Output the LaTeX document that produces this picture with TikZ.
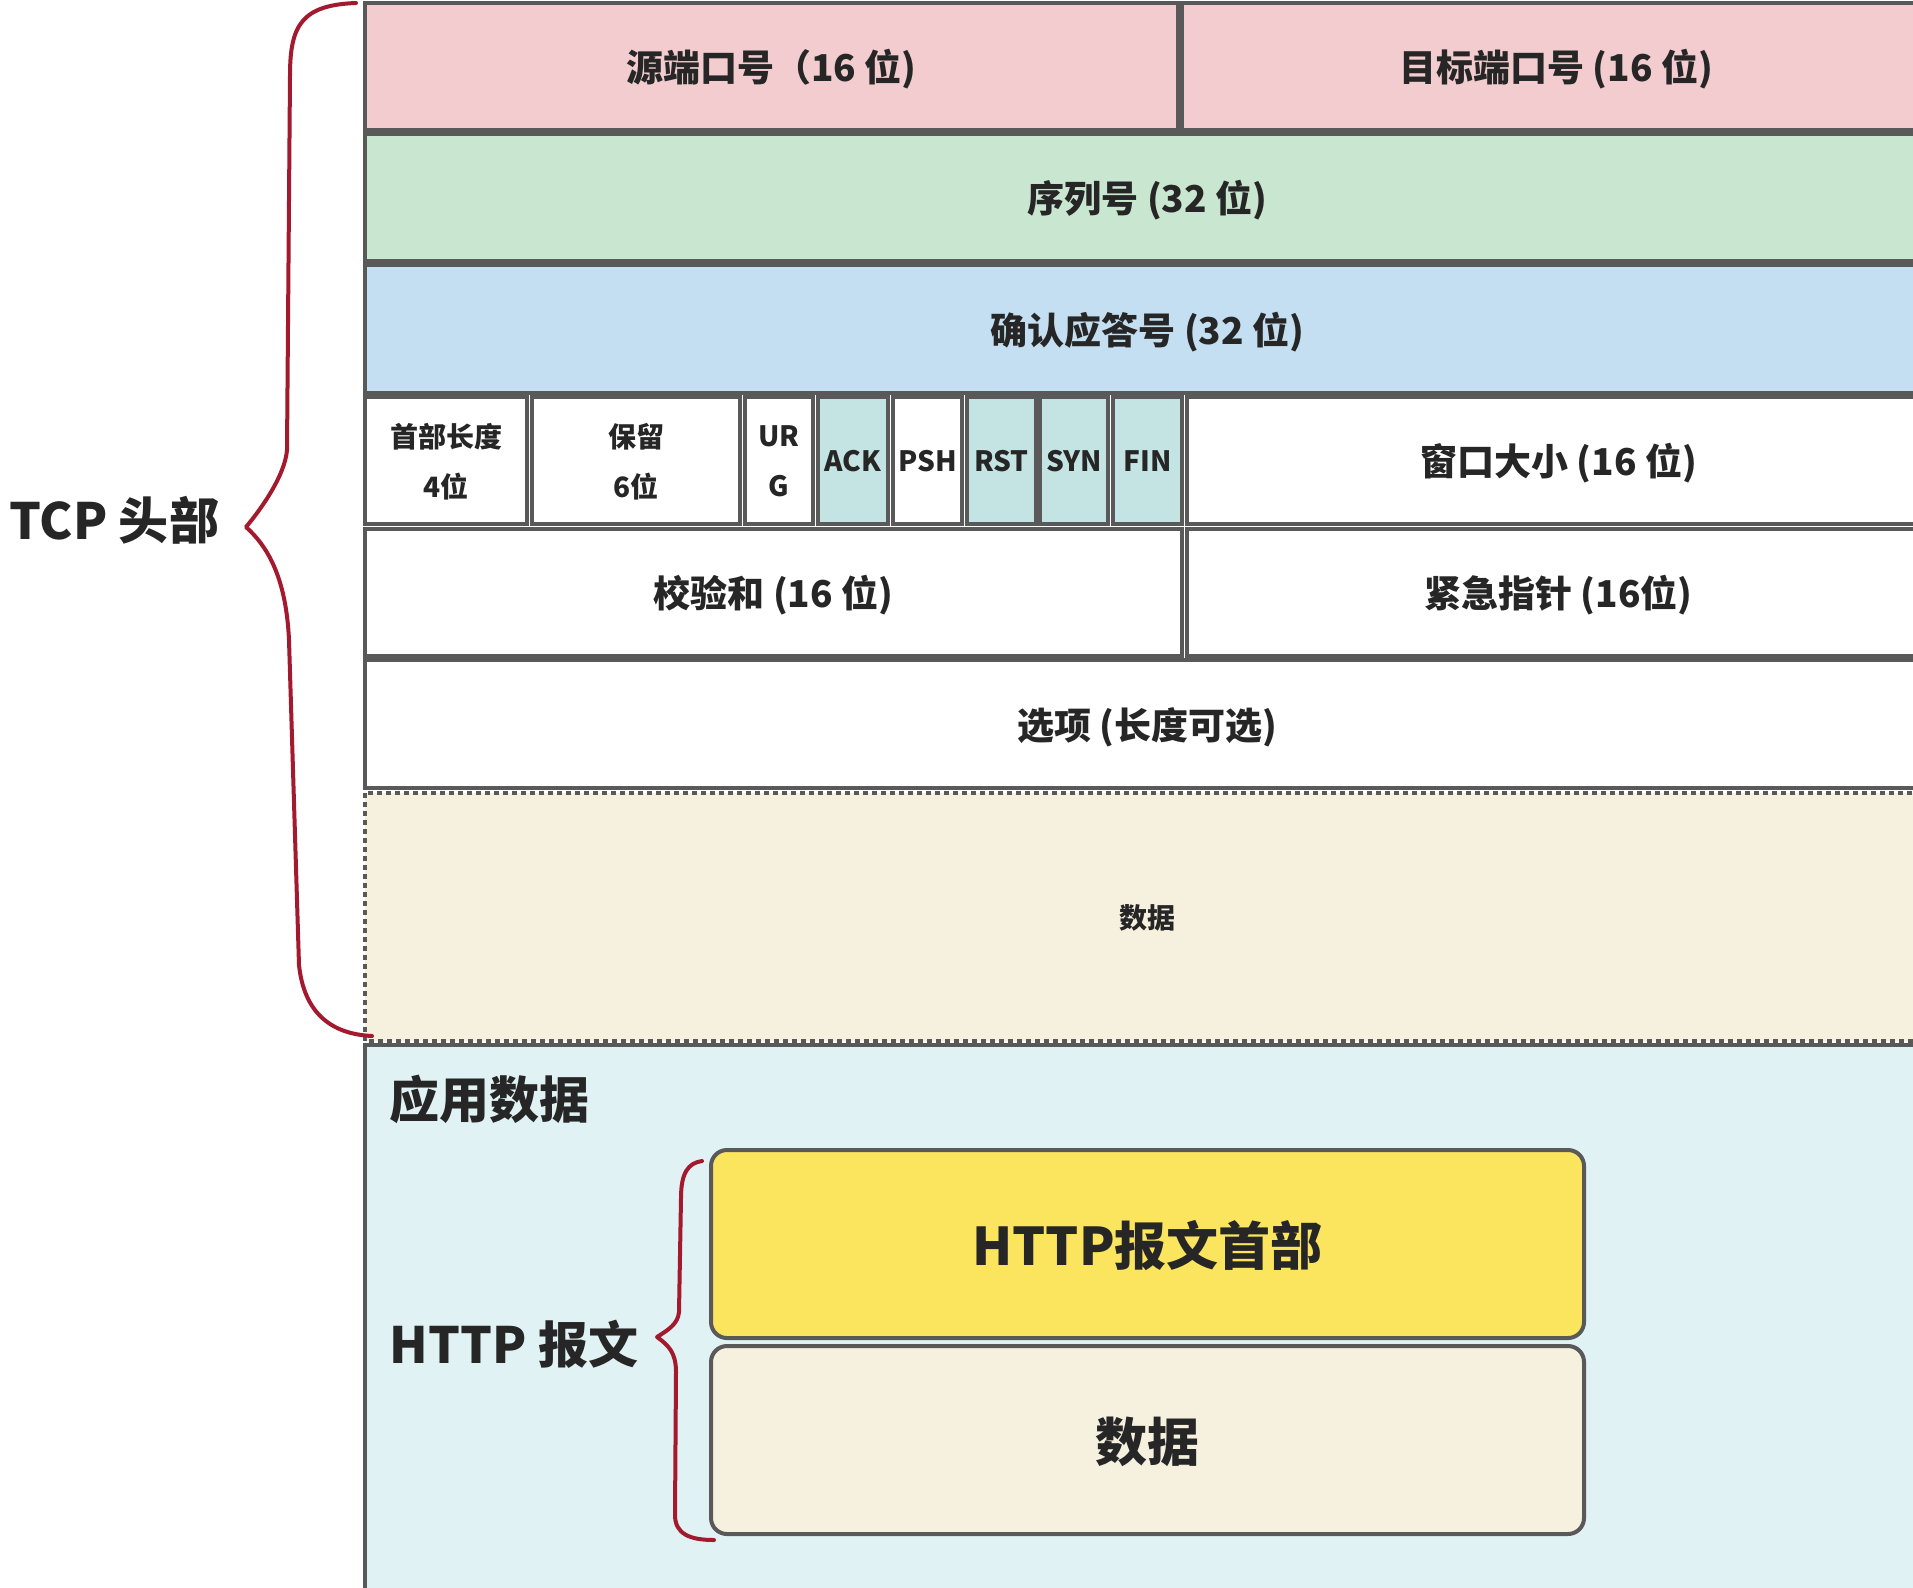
\documentclass[tikz,border=0pt]{standalone}
\usepackage{fontspec}
\setmainfont{Noto Sans CJK SC}

\definecolor{edge}{HTML}{595959}
\definecolor{ink}{HTML}{262626}
\definecolor{pinkf}{HTML}{F2CCCE}
\definecolor{greenf}{HTML}{C9E6D0}
\definecolor{bluef}{HTML}{C3DFF1}
\definecolor{flagf}{HTML}{C4E4E4}
\definecolor{beigef}{HTML}{F6F0DF}
\definecolor{appf}{HTML}{E0F2F4}
\definecolor{yellowf}{HTML}{FCE55E}
\definecolor{bracec}{HTML}{A31A2E}

% one header field: name, x1, y1, x2, y2, fill, text style, text
\newcommand\field[8]{%
  \draw[cellline,fill=#6] (#2,#3) rectangle (#4,#5)
    node[midway,#7] (#1) {#8};}

\begin{document}
\begin{tikzpicture}[x=1pt,y=-1pt,
  cellline/.style={draw=edge,line width=3.8pt},
  dashline/.style={draw=edge,line width=4pt,dash pattern=on 5pt off 4pt},
  roundbox/.style={draw=edge,line width=4pt,rounded corners=16pt},
  fieldtext/.style={font=\bfseries\fontsize{37}{46}\selectfont,text=ink,align=center,yshift=-3pt},
  smalltext/.style={font=\bfseries\fontsize{28}{50}\selectfont,text=ink,align=center,yshift=-1pt},
  labeltext/.style={font=\bfseries\fontsize{50}{60}\selectfont,text=ink},
  bigtext/.style={font=\bfseries\fontsize{52}{60}\selectfont,text=ink,yshift=-2pt},
  bracepen/.style={draw=bracec,line width=4pt,line cap=round,line join=round}]

\useasboundingbox (0,0) rectangle (1913,1587);
\fill[white] (0,0) rectangle (1913,1587);
\clip (0,0) rectangle (1913,1587);

% application data area below the TCP segment
\draw[cellline,fill=appf] (365,1045) rectangle (1935,1610);
\node[labeltext,anchor=west] (applabel) at (386,1099) {应用数据};

% TCP header rows
\field{srcport}{365}{3}{1178}{130}{pinkf}{fieldtext}{源端口号（16 位)}
\field{dstport}{1182}{3}{1930}{130}{pinkf}{fieldtext}{目标端口号 (16 位)}
\field{seq}{365}{134}{1930}{261}{greenf}{fieldtext}{序列号 (32 位)}
\field{acknum}{365}{265}{1930}{393}{bluef}{fieldtext}{确认应答号 (32 位)}

\field{hlen}{365}{397}{527}{524}{white}{smalltext}{首部长度\\4位}
\field{rsv}{532}{397}{740}{524}{white}{smalltext}{保留\\6位}
\field{urg}{745}{397}{813}{524}{white}{smalltext}{UR\\G}
\field{ackf}{818}{397}{888}{524}{flagf}{smalltext}{ACK}
\field{psh}{893}{397}{962}{524}{white}{smalltext}{PSH}
\field{rst}{967}{397}{1036}{524}{flagf}{smalltext}{RST}
\field{syn}{1040}{397}{1108}{524}{flagf}{smalltext}{SYN}
\field{fin}{1113}{397}{1182}{524}{flagf}{smalltext}{FIN}
\field{win}{1187}{397}{1930}{524}{white}{fieldtext}{窗口大小 (16 位)}

\field{csum}{365}{529}{1182}{656}{white}{fieldtext}{校验和 (16 位)}
\field{urgp}{1187}{529}{1930}{656}{white}{fieldtext}{紧急指针 (16位)}

\field{opt}{365}{660}{1930}{788}{white}{fieldtext}{选项 (长度可选)}

% payload carried by the segment
\draw[dashline,fill=beigef] (365,793) rectangle (1930,1041)
  node[midway,smalltext] (payload) {数据};

% HTTP message inside the application data
\draw[roundbox,fill=yellowf] (711,1150) rectangle (1584,1338)
  node[midway,bigtext] (httphead) {HTTP报文首部};
\draw[roundbox,fill=beigef] (711,1346) rectangle (1584,1534)
  node[midway,bigtext] (httpbody) {数据};

% labels with their braces
\node[labeltext,anchor=west] (tcplabel) at (6,520) {TCP 头部};
\node[labeltext,anchor=west] (httplabel) at (386,1344) {HTTP 报文};

\coordinate (tcptop) at (356,3);
\coordinate (tcptip) at (246,527);
\coordinate (tcpbot) at (372,1036);
\draw[bracepen] (tcptop) .. controls (302,5) and (290,25) .. (290,75)
  -- (287,450) .. controls (285,475) and (262,508) .. (tcptip)
  .. controls (266,545) and (286,575) .. (289,640)
  -- (299,965) .. controls (304,1012) and (330,1034) .. (tcpbot);

\coordinate (httptop) at (702,1161);
\coordinate (httptip) at (657,1337);
\coordinate (httpbot) at (714,1540);
\draw[bracepen] (httptop) .. controls (688,1163) and (681,1173) .. (681,1198)
  -- (679,1312) .. controls (678,1324) and (668,1330) .. (httptip)
  .. controls (668,1345) and (676,1352) .. (676,1372)
  -- (675,1515) .. controls (675,1534) and (690,1540) .. (httpbot);

\end{tikzpicture}
\end{document}
